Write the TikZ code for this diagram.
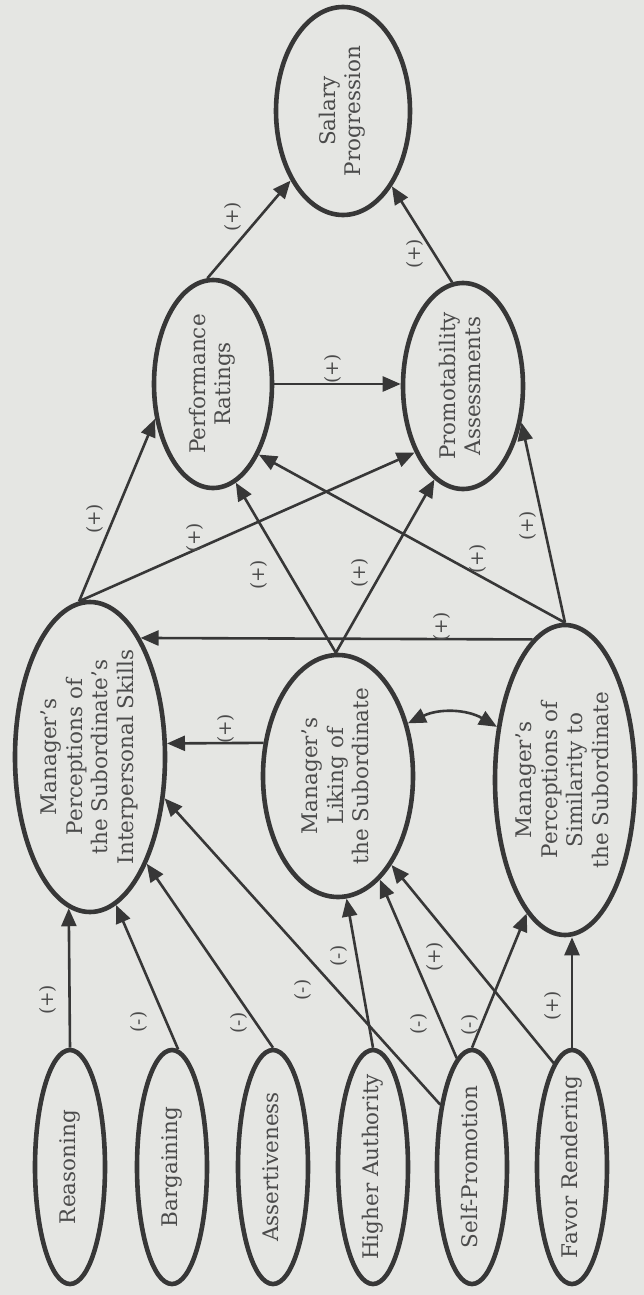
\documentclass[tikz,border=0pt]{standalone}
\usepackage{fontspec}
\usepackage{graphicx}
\setmainfont{DejaVu Serif}
\usetikzlibrary{shapes.geometric,arrows.meta}
\definecolor{bg}{RGB}{229,230,227}
\definecolor{ink}{RGB}{55,55,55}
\definecolor{txt}{RGB}{75,75,75}
\newcommand{\rtxt}[1]{\rotatebox{90}{\begin{tabular}{@{}c@{}}#1\end{tabular}}}
\begin{document}
\begin{tikzpicture}[x=1pt,y=-1pt,
  ell/.style={ellipse, draw=ink, line width=4.6pt, inner sep=-25pt, text=txt,
              font=\fontsize{21.5}{25.5}\selectfont},
  con/.style={draw=ink, line width=2.6pt, -{Triangle[length=18pt,width=15pt]}},
  dcon/.style={draw=ink, line width=2.6pt, {Triangle[length=18pt,width=15pt]}-{Triangle[length=18pt,width=15pt]}},
  lab/.style={rotate=90, text=txt, font=\fontsize{18.5}{20}\selectfont, inner sep=0pt},
]
\fill[bg] (0,0) rectangle (644,1295);
\useasboundingbox (0,0) rectangle (644,1295);

% main nodes
\node[ell, minimum width=134pt, minimum height=208pt] (S) at (343,111) {\rtxt{Salary\\Progression}};
\node[ell, minimum width=118pt, minimum height=208pt] (P) at (213,384) {\rtxt{Performance\\Ratings}};
\node[ell, minimum width=120pt, minimum height=206pt] (R) at (463,386) {\rtxt{Promotability\\Assessments}};
\node[ell, minimum width=150pt, minimum height=310pt] (I) at (90,757) {\rtxt{Manager's\\Perceptions of\\the Subordinate's\\Interpersonal Skills}};
\node[ell, minimum width=150pt, minimum height=242pt] (L) at (338,776) {\rtxt{Manager's\\Liking of\\the Subordinate}};
\node[ell, minimum width=140pt, minimum height=310pt] (M) at (565,780) {\rtxt{Manager's\\Perceptions of\\Similarity to\\the Subordinate}};

% influence tactics
\node[ell, minimum width=70pt, minimum height=234pt] (Rs) at (70,1167) {\rtxt{Reasoning}};
\node[ell, minimum width=70pt, minimum height=234pt] (Bg) at (172,1167) {\rtxt{Bargaining}};
\node[ell, minimum width=70pt, minimum height=234pt] (As) at (273,1167) {\rtxt{Assertiveness}};
\node[ell, minimum width=70pt, minimum height=234pt] (Ha) at (373,1167) {\rtxt{Higher Authority}};
\node[ell, minimum width=70pt, minimum height=234pt] (Sp) at (472,1167) {\rtxt{Self-Promotion}};
\node[ell, minimum width=70pt, minimum height=234pt] (Fr) at (572,1167) {\rtxt{Favor Rendering}};

% connectors
\draw[con] (P.93) -- (S.233);
\draw[con] (R.96) -- (S.303);
\draw[con] (P.east) -- (P.east -| R.west);
\draw[con] (I.94) -- (P.211);
\draw[con] (I.94) -- (R.234);
\draw[con] (L.91) -- (P.283);
\draw[con] (L.91) -- (R.253);
\draw[con] (M.north) -- (P.303);
\draw[con] (M.north) -- (R.328);
\draw[con] (M.103) -- (I.67);
\draw[con] (L.156) -- (I.10);
\draw[dcon] (L.37) to[bend left=28] (M.142);
\draw[con] (Rs.north) -- (I.262);
\draw[con] (Bg.87) -- (I.280);
\draw[con] (As.north) -- (I.298);
\draw[con] (Sp.117) -- (I.331);
\draw[con] (Ha.north) -- (L.274);
\draw[con] (Sp.98) -- (L.292);
\draw[con] (Fr.100) -- (L.301);
\draw[con] (Sp.north) -- (M.254);
\draw[con] (Fr.north) -- (Fr.north |- M.south);

% labels
\node[lab] (l1) at (233,217) {(+)};
\node[lab] (l2) at (415,254) {(+)};
\node[lab] (l3) at (333,369) {(+)};
\node[lab] (l4) at (95,519) {(+)};
\node[lab] (l5) at (195,538) {(+)};
\node[lab] (l6) at (259,575) {(+)};
\node[lab] (l7) at (360,573) {(+)};
\node[lab] (l8) at (478,559) {(+)};
\node[lab] (l9) at (528,526) {(+)};
\node[lab] (l10) at (442,627) {(+)};
\node[lab] (l11) at (226,729) {(+)};
\node[lab] (l12) at (48,1000) {(+)};
\node[lab] (l13) at (139,1022) {(-)};
\node[lab] (l14) at (239,1023) {(-)};
\node[lab] (l15) at (303,990) {(-)};
\node[lab] (l16) at (339,956) {(-)};
\node[lab] (l17) at (419,1024) {(-)};
\node[lab] (l18) at (435,957) {(+)};
\node[lab] (l19) at (470,1025) {(-)};
\node[lab] (l20) at (553,1006) {(+)};
\end{tikzpicture}
\end{document}
